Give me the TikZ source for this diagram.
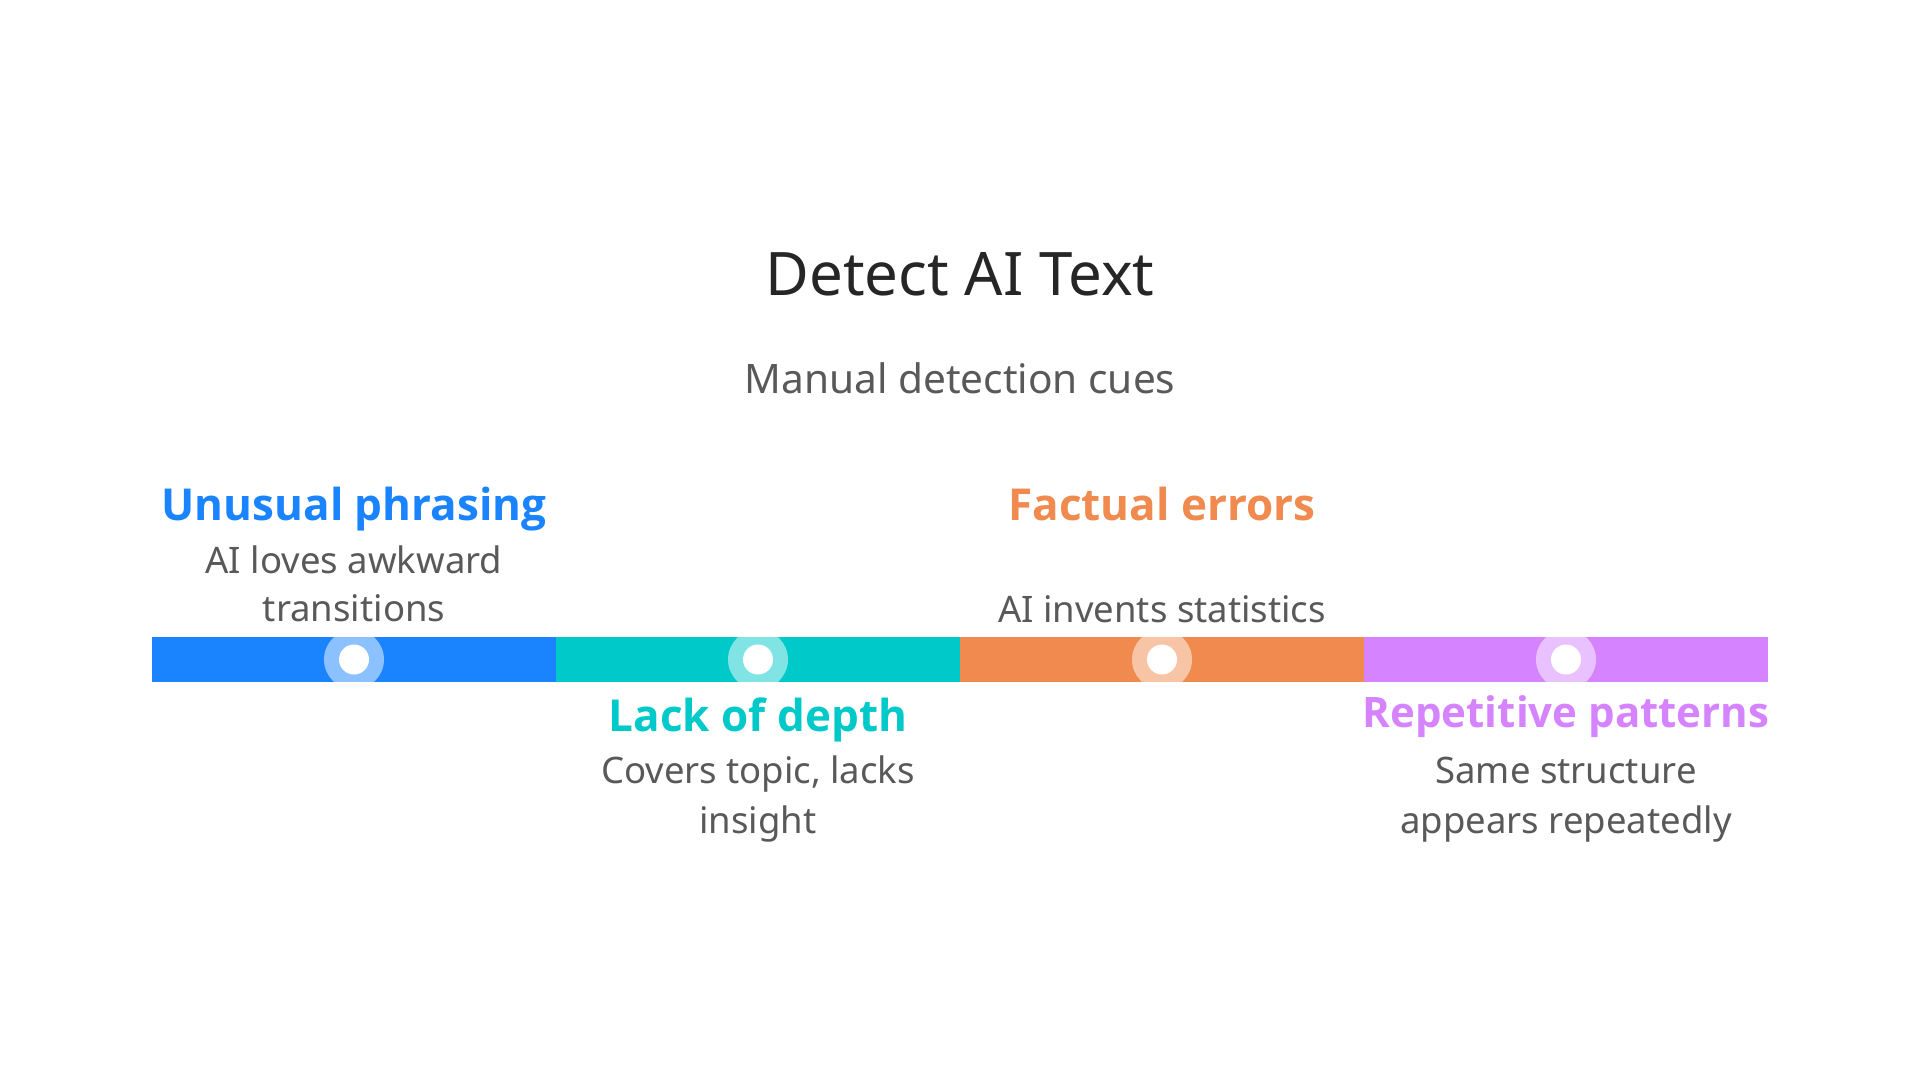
\documentclass[tikz,border=0pt]{standalone}
\usepackage{fontspec}
\setmainfont{Noto Sans}
\newfontfamily\headfont{Open Sans}
\definecolor{cblue}{HTML}{1A84FF}
\definecolor{cteal}{HTML}{00C9C9}
\definecolor{corange}{HTML}{F08A4E}
\definecolor{cpurple}{HTML}{D683FF}
\definecolor{ctitle}{HTML}{262626}
\definecolor{cbody}{HTML}{595959}
\begin{document}
\begin{tikzpicture}[x=1pt,y=-1pt,
  seg/.style={inner sep=0pt, outer sep=0pt, minimum width=404pt, minimum height=45pt, draw=none},
  head/.style={inner sep=0pt, anchor=base, font=\headfont\bfseries\fontsize{44}{52}\selectfont},
  body/.style={inner sep=0pt, anchor=base, text=cbody, font=\fontsize{36.5}{44}\selectfont},
  ring/.style={fill=white, fill opacity=0.5},
  dot/.style={fill=white}]
\useasboundingbox (0,0) rectangle (1920,1080);
\fill[white] (0,0) rectangle (1920,1080);

\node[inner sep=0pt, anchor=base, text=ctitle, font=\fontsize{60}{70}\selectfont] (title) at (960,295) {Detect AI Text};
\node[inner sep=0pt, anchor=base, text=cbody, font=\fontsize{40.6}{48}\selectfont] (sub) at (960,393) {Manual detection cues};

\node[seg, fill=cblue] (s1) at (354,659.5) {};
\node[seg, fill=cteal] (s2) at (758,659.5) {};
\node[seg, fill=corange] (s3) at (1162,659.5) {};
\node[seg, fill=cpurple] (s4) at (1566,659.5) {};

\begin{scope}
\clip (s1.north west) rectangle (s4.south east);
\foreach \s in {s1,s2,s3,s4}{
  \fill[ring] (\s.center) circle (30pt);
  \fill[dot] (\s.center) circle (15pt);
}
\end{scope}

\node[head, text=cblue] (h1) at (354,520) {Unusual phrasing};
\node[body] (b1a) at (354,573) {AI loves awkward};
\node[body] (b1b) at (354,621) {transitions};

\node[head, text=cteal] (h2) at (758,731) {Lack of depth};
\node[body] (b2a) at (758,783) {Covers topic, lacks};
\node[body] (b2b) at (758,833) {insight};

\node[head, text=corange] (h3) at (1162,520) {Factual errors};
\node[body] (b3) at (1162,622) {AI invents statistics};

\node[head, text=cpurple, font=\headfont\bfseries\fontsize{42}{50}\selectfont] (h4) at (1566,727) {Repetitive patterns};
\node[body] (b4a) at (1566,783) {Same structure};
\node[body] (b4b) at (1566,833) {appears repeatedly};
\end{tikzpicture}
\end{document}
